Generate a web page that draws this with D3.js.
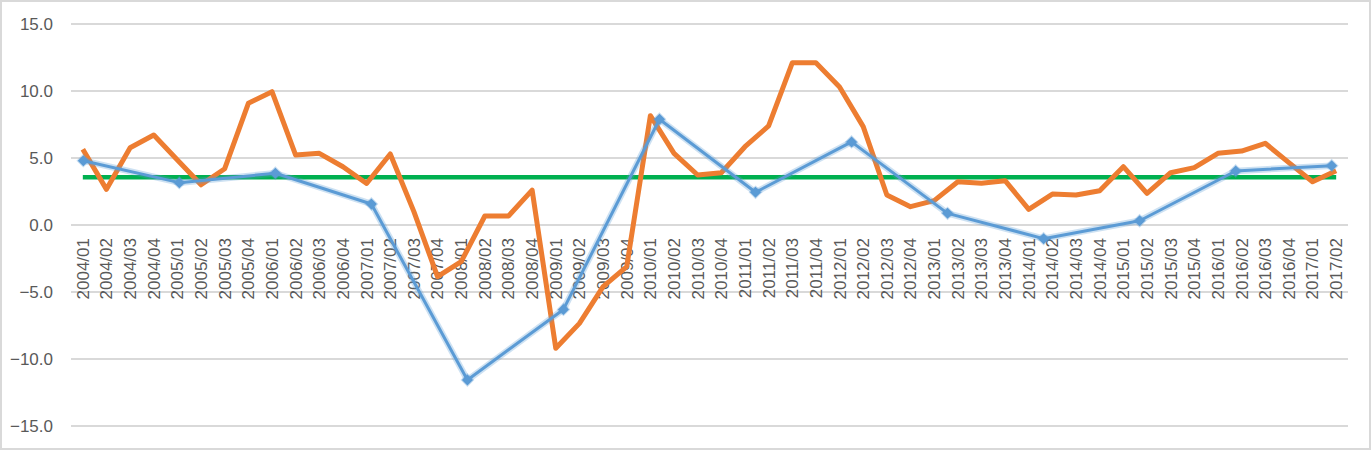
<!DOCTYPE html>
<html>
<head>
<meta charset="utf-8">
<script src="https://cdn.jsdelivr.net/npm/d3@7"></script>
<style>
  html, body { margin: 0; padding: 0; background: #fff; }
  svg { display: block; font-family: "Liberation Sans", Arial, sans-serif; }
</style>
</head>
<body>
<div id="chart"></div>
<script>
// quarterly categories 2004/01 .. 2017/02
const quarters = [
  '2004/01', '2004/02', '2004/03', '2004/04',
  '2005/01', '2005/02', '2005/03', '2005/04',
  '2006/01', '2006/02', '2006/03', '2006/04',
  '2007/01', '2007/02', '2007/03', '2007/04',
  '2008/01', '2008/02', '2008/03', '2008/04',
  '2009/01', '2009/02', '2009/03', '2009/04',
  '2010/01', '2010/02', '2010/03', '2010/04',
  '2011/01', '2011/02', '2011/03', '2011/04',
  '2012/01', '2012/02', '2012/03', '2012/04',
  '2013/01', '2013/02', '2013/03', '2013/04',
  '2014/01', '2014/02', '2014/03', '2014/04',
  '2015/01', '2015/02', '2015/03', '2015/04',
  '2016/01', '2016/02', '2016/03', '2016/04',
  '2017/01', '2017/02'
]

// orange series, quarterly
const quarterlyValues = [
  5.65, 2.66, 5.77, 6.72, 4.85, 3.0, 4.2, 9.08,
  9.95, 5.22, 5.35, 4.35, 3.1, 5.3, 1.0, -3.86,
  -2.74, 0.67, 0.67, 2.6, -9.2, -7.34, -4.6, -3.1,
  8.16, 5.35, 3.73, 3.9, 5.84, 7.39, 12.1, 12.1,
  10.3, 7.34, 2.24, 1.37, 1.82, 3.23, 3.11, 3.31,
  1.17, 2.31, 2.24, 2.56, 4.35, 2.36, 3.9, 4.28,
  5.35, 5.52, 6.1, 4.65, 3.23, 4.05
]

// blue series, yearly
const years = ['2004', '2005', '2006', '2007', '2008', '2009', '2010',
  '2011', '2012', '2013', '2014', '2015', '2016', '2017']
const yearlyValues = [4.8, 3.16, 3.86, 1.57, -11.57, -6.3, 7.89,
  2.44, 6.2, 0.87, -1.02, 0.32, 4.03, 4.43]

// green series, flat average
const averageValue = 3.56

const yTicks = [-15, -10, -5, 0, 5, 10, 15]

var W = 1372, H = 451
var plot = { left: 71, right: 1348, top: 24, bottom: 426 }

var svg = d3.select('#chart').append('svg')
  .attr('width', W)
  .attr('height', H)

svg.append('rect')
  .attr('x', 1).attr('y', 1)
  .attr('width', W - 3).attr('height', H - 3)
  .attr('fill', '#fff')
  .attr('stroke', '#d9d9d9')
  .attr('stroke-width', 2)

var yScale = d3.scaleLinear().domain([-15, 15]).range([plot.bottom, plot.top])
var xScale = d3.scaleBand().domain(quarters).range([plot.left, plot.right])
// yearly series sits on its own category axis
var xYear = d3.scalePoint().domain(years).range([83.3, 1331.7])

// gridlines
svg.append('g')
  .selectAll('line')
  .data(yTicks)
  .enter().append('line')
  .attr('x1', plot.left).attr('x2', plot.right)
  .attr('y1', d => yScale(d)).attr('y2', d => yScale(d))
  .attr('stroke', '#d9d9d9')
  .attr('stroke-width', 2)

// y axis labels
var yAxis = svg.append('g')
  .attr('transform', 'translate(' + plot.left + ',0)')
  .call(d3.axisLeft(yScale).tickValues(yTicks).tickFormat(d3.format('.1f')).tickSize(0).tickPadding(18))
yAxis.select('.domain').remove()
yAxis.selectAll('text')
  .attr('fill', '#595959')
  .attr('font-size', 17)
  .attr('font-family', '"Liberation Sans", Arial, sans-serif')

// x axis labels, rotated, hanging just below zero
var xAxis = svg.append('g')
  .attr('transform', 'translate(0,' + yScale(0) + ')')
  .call(d3.axisBottom(xScale).tickSize(0))
xAxis.select('.domain').remove()
xAxis.selectAll('text')
  .attr('x', -13)
  .attr('y', 0)
  .attr('dy', '0.35em')
  .attr('transform', 'rotate(-90)')
  .style('text-anchor', 'end')
  .attr('fill', '#595959')
  .attr('font-size', 17)
  .attr('font-family', '"Liberation Sans", Arial, sans-serif')

var qx = d => xScale(d) + xScale.bandwidth() / 2

// green average line
var greenLine = d3.line()
  .x(d => qx(d))
  .y(() => yScale(averageValue))
svg.append('path')
  .datum(quarters)
  .attr('d', greenLine)
  .attr('fill', 'none')
  .attr('stroke', '#00b050')
  .attr('stroke-width', 4.5)

// orange quarterly line
var orangeLine = d3.line()
  .x((d, i) => qx(quarters[i]))
  .y(d => yScale(d))
svg.append('path')
  .datum(quarterlyValues)
  .attr('d', orangeLine)
  .attr('fill', 'none')
  .attr('stroke', '#ed7d31')
  .attr('stroke-width', 5)
  .attr('stroke-linejoin', 'round')

// blue yearly line with soft glow and diamonds
var blueLine = d3.line()
  .x((d, i) => xYear(years[i]))
  .y(d => yScale(d))
svg.append('path')
  .datum(yearlyValues)
  .attr('d', blueLine)
  .attr('fill', 'none')
  .attr('stroke', '#5b9bd5')
  .attr('stroke-opacity', 0.3)
  .attr('stroke-width', 6.5)
  .attr('stroke-linejoin', 'round')
svg.append('path')
  .datum(yearlyValues)
  .attr('d', blueLine)
  .attr('fill', 'none')
  .attr('stroke', '#5b9bd5')
  .attr('stroke-width', 3)
  .attr('stroke-linejoin', 'round')

svg.append('g')
  .selectAll('path')
  .data(yearlyValues)
  .enter().append('path')
  .attr('d', 'M0,-5.5L5.5,0L0,5.5L-5.5,0Z')
  .attr('transform', (d, i) => 'translate(' + xYear(years[i]) + ',' + yScale(d) + ')')
  .attr('fill', '#5b9bd5')
  .attr('stroke', '#5b9bd5')
  .attr('stroke-opacity', 0.35)
  .attr('stroke-width', 2)
</script>
</body>
</html>
